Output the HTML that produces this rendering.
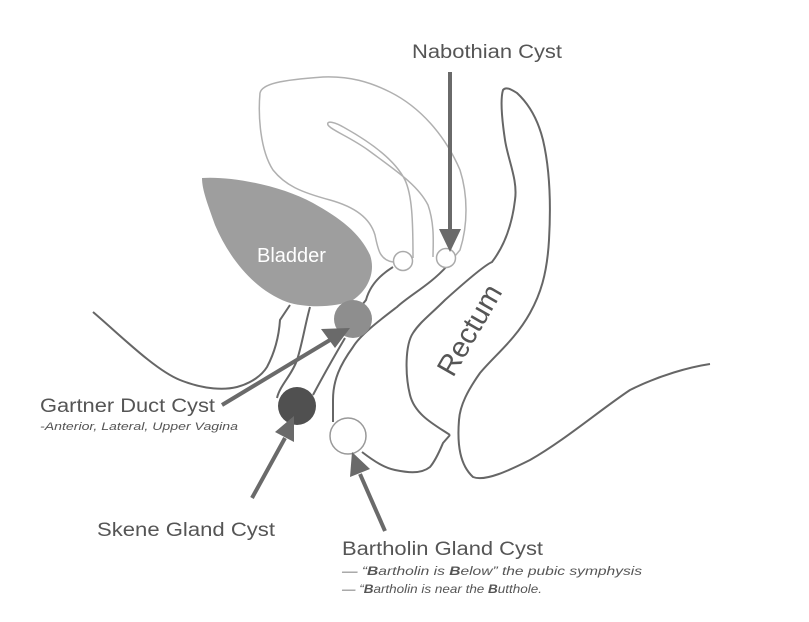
<!DOCTYPE html>
<html><head><meta charset="utf-8"><style>
html,body{margin:0;padding:0;background:#fff;}
svg{display:block;}
text{font-family:"Liberation Sans",Arial,sans-serif;fill:#555;}
</style></head><body>
<svg width="809" height="622" viewBox="0 0 809 622" xmlns="http://www.w3.org/2000/svg">
<g fill="none" stroke="#b0b0b0" stroke-width="1.5">
<path d="M260,93 C262,84 280,80 323,77 C350,76 370,82 390,92 C420,107 445,135 460,170 C468,195 468,225 460,250 L455,256"/>
<path d="M260,93 C258,115 260,150 273,170 C285,185 300,192 330,200 C355,207 370,218 375,235 C378,250 380,260 393,262"/>
<path d="M413,258 C413,220 412,195 405,180 C395,160 370,142 345,128 C335,122 326,120 328,125 C331,130 350,137 368,150 C395,170 418,185 428,205 C435,225 433,245 433,257"/>
</g>
<path d="M202,178 C230,176 280,185 313,203 C340,218 360,233 370,255 C376,272 368,290 353,300 C335,308 305,308 287,302 C255,290 230,260 215,225 C208,205 202,190 202,178 Z" fill="#9e9e9e"/>
<text x="257" y="262" font-size="20" style="fill:#fff">Bladder</text>
<g fill="none" stroke="#666" stroke-width="2">
<path d="M93,312 C120,335 155,370 180,380 C205,390 225,390 237,387 C252,383 262,375 267,367 C276,350 279,335 280,320 L290,305"/>
<path d="M310,307 C305,325 302,345 297,360 C292,375 280,385 277,398"/>
<path d="M393,267 C380,275 370,285 366,300 L362,305"/>
<path d="M345,338 C335,355 322,378 313,395"/>
<path d="M447,266 C430,285 410,295 397,307 C380,320 360,335 353,347 C340,365 333,380 333,400 L333,422"/>
<path d="M362,452 C375,462 385,468 395,470 C405,472 420,475 430,467 C436,460 440,450 443,443 L450,435"/>
<path d="M450,435 C435,425 415,415 410,395 C405,375 405,345 413,333 C420,322 430,315 445,300 C465,282 485,265 492,262 C505,245 512,225 515,200 C518,180 508,160 505,140 C502,120 500,100 503,90 C506,86 512,90 517,93 C530,105 538,120 543,140 C550,170 551,205 549,240 C547,275 540,295 530,313 C515,340 495,355 480,373 C468,390 460,405 459,420 C457,445 460,465 473,477 C485,482 510,470 530,460 C565,440 600,410 630,390 C660,375 690,367 710,364"/>
</g>
<circle cx="403" cy="261" r="9.5" fill="#fff" stroke="#aaa" stroke-width="1.5"/>
<circle cx="446" cy="258" r="9.5" fill="#fff" stroke="#aaa" stroke-width="1.5"/>
<circle cx="353" cy="319" r="19" fill="#8e8e8e"/>
<circle cx="297" cy="406" r="19" fill="#505050"/>
<circle cx="348" cy="436" r="18" fill="#fff" stroke="#999" stroke-width="1.5"/>
<g stroke="#6a6a6a" stroke-width="4" fill="#6a6a6a">
<line x1="450" y1="72" x2="450" y2="232"/>
<polygon points="439,229 461,229 450,252" stroke="none"/>
<line x1="222" y1="405" x2="330" y2="340"/>
<polygon points="321,329 335,348 350,328" stroke="none"/>
<line x1="252" y1="498" x2="285" y2="438"/>
<polygon points="275,432 294,442 294,416" stroke="none"/>
<line x1="385" y1="531" x2="360" y2="474"/>
<polygon points="350,477 370,469 352,452" stroke="none"/>
</g>
<text x="412" y="58" font-size="19" textLength="150" lengthAdjust="spacingAndGlyphs">Nabothian Cyst</text>
<text x="40" y="412" font-size="19" textLength="175" lengthAdjust="spacingAndGlyphs">Gartner Duct Cyst</text>
<text x="40" y="430" font-size="11" font-style="italic" textLength="198" lengthAdjust="spacingAndGlyphs">-Anterior, Lateral, Upper Vagina</text>
<text x="97" y="536" font-size="19" textLength="178" lengthAdjust="spacingAndGlyphs">Skene Gland Cyst</text>
<text x="342" y="555" font-size="19" textLength="201" lengthAdjust="spacingAndGlyphs">Bartholin Gland Cyst</text>
<text x="342" y="575" font-size="12" font-style="italic" textLength="300" lengthAdjust="spacingAndGlyphs">— “<tspan font-weight="bold">B</tspan>artholin is <tspan font-weight="bold">B</tspan>elow” the pubic symphysis</text>
<text x="342" y="593" font-size="12" font-style="italic" textLength="200" lengthAdjust="spacingAndGlyphs">— “<tspan font-weight="bold">B</tspan>artholin is near the <tspan font-weight="bold">B</tspan>utthole.</text>
<text transform="translate(478,335) rotate(-60)" x="0" y="0" font-size="29" text-anchor="middle">Rectum</text>
</svg>
</body></html>
